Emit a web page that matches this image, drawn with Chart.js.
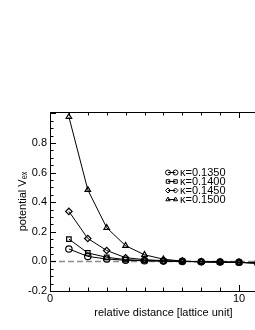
<!DOCTYPE html>
<html>
<head>
<meta charset="utf-8">
<script src="https://cdn.jsdelivr.net/npm/chart.js@4/dist/chart.umd.min.js"></script>
<style>
  html, body { margin: 0; padding: 0; background: #fff; overflow: hidden; }
  /* the plot frame runs past the right edge of the window, like the cropped original */
  #wrap { width: 282px; height: 330px; }
</style>
</head>
<body>
<div id="wrap"><canvas id="vexChart"></canvas></div>
<script>
// distances (lattice units)
const distance = [1, 2, 3, 4, 5, 6, 7, 8, 9, 10, 11];

// potential V_ex for each kappa
const k1350 = [0.084, 0.034, 0.016, 0.008, 0.004, 0.002, 0.000, -0.002, -0.004, -0.006, -0.010];
const k1400 = [0.151, 0.057, 0.028, 0.012, 0.006, 0.003, 0.000, -0.003, -0.005, -0.008, -0.012];
const k1450 = [0.338, 0.155, 0.074, 0.025, 0.012, 0.005, 0.001, -0.002, -0.004, -0.006, -0.010];
const k1500 = [0.977, 0.484, 0.228, 0.106, 0.045, 0.015, 0.002, -0.002, -0.004, -0.006, -0.012];

const seriesLabels = ["κ=0.1350", "κ=0.1400", "κ=0.1450", "κ=0.1500"];
const markers = ["circle", "rect", "rectRot", "triangle"];

const xTicks = [0, 10];
const yTicks = [-0.2, 0, 0.2, 0.4, 0.6, 0.8];

const FONT = "'Liberation Sans', Arial, sans-serif";

function toPoints(vals) {
  return vals.map((v, i) => ({ x: distance[i], y: v }));
}

const allSeries = [k1350, k1400, k1450, k1500];

const datasets = allSeries.map((vals, i) => ({
  label: seriesLabels[i],
  data: toPoints(vals),
  borderColor: "#000",
  borderWidth: 1,
  pointStyle: markers[i],
  pointRadius: 3.2,
  pointBorderColor: "#000",
  pointBorderWidth: 1.2,
  pointBackgroundColor: "rgba(255,255,255,0)",
  tension: 0,
}));

// dashed zero line
datasets.push({
  label: "zero",
  data: [{ x: 0, y: 0 }, { x: 12, y: 0 }],
  borderColor: "#8c8c8c",
  borderWidth: 1.5,
  borderDash: [6, 3],
  pointRadius: 0,
});

// inward tick marks on all sides + top frame line
const framePlugin = {
  id: "frame",
  afterDraw(chart) {
    const { ctx, chartArea: a, scales } = chart;
    const xs = scales.x, ys = scales.y;
    ctx.save();
    ctx.strokeStyle = "#000";
    ctx.lineWidth = 1;
    ctx.beginPath();
    ctx.moveTo(a.left, a.top + 0.5);
    ctx.lineTo(a.right, a.top + 0.5);
    ctx.moveTo(a.right - 0.5, a.top);
    ctx.lineTo(a.right - 0.5, a.bottom);
    for (let v = 0; v <= 12; v++) {
      const px = Math.round(xs.getPixelForValue(v)) + 0.5;
      const len = v % 10 === 0 ? 6 : 3.5;
      ctx.moveTo(px, a.bottom);
      ctx.lineTo(px, a.bottom - len);
      ctx.moveTo(px, a.top);
      ctx.lineTo(px, a.top + len);
    }
    for (let k = -4; k <= 20; k++) {
      const v = k * 0.05;
      const py = Math.round(ys.getPixelForValue(v)) + 0.5;
      const len = k % 4 === 0 ? 6 : 3.5;
      ctx.moveTo(a.left, py);
      ctx.lineTo(a.left + len, py);
      ctx.moveTo(a.right, py);
      ctx.lineTo(a.right - len, py);
    }
    ctx.stroke();
    ctx.restore();
  },
};

// legend drawn inside the plot: marker - line - marker, then label
const legendPlugin = {
  id: "insideLegend",
  afterDraw(chart) {
    const { ctx, chartArea: a } = chart;
    const x0 = a.left + 118;
    const y0 = a.top + 60.5;
    ctx.save();
    ctx.font = "11px " + FONT;
    ctx.fillStyle = "#000";
    ctx.textBaseline = "middle";
    seriesLabels.forEach((lab, i) => {
      const y = y0 + i * 9;
      ctx.strokeStyle = "#000";
      ctx.lineWidth = 1;
      ctx.beginPath();
      ctx.moveTo(x0, y);
      ctx.lineTo(x0 + 7.5, y);
      ctx.stroke();
      const opts = { pointStyle: markers[i], radius: 2.5, borderWidth: 1, rotation: 0 };
      ctx.fillStyle = "rgba(255,255,255,0)";
      Chart.helpers.drawPoint(ctx, opts, x0, y);
      Chart.helpers.drawPoint(ctx, opts, x0 + 7.5, y);
      ctx.fillStyle = "#000";
      ctx.fillText(lab, x0 + 12, y + 0.5);
    });
    ctx.restore();
  },
};

const ctx = document.getElementById("vexChart").getContext("2d");
const vexChart = new Chart(ctx, {
  type: "line",
  data: { datasets: datasets },
  plugins: [framePlugin, legendPlugin],
  options: {
    responsive: true,
    maintainAspectRatio: false,
    animation: false,
    events: [],
    layout: { padding: { top: 112, right: 1, left: 0, bottom: 0 } },
    plugins: {
      legend: { display: false },
      tooltip: { enabled: false },
    },
    scales: {
      x: {
        type: "linear",
        min: 0,
        max: 12,
        afterBuildTicks: (s) => { s.ticks = xTicks.map((v) => ({ value: v })); },
        afterFit: (s) => { s.height = 39; },
        grid: { display: false, drawTicks: false, tickLength: 0 },
        border: { display: true, color: "#000", width: 1 },
        ticks: {
          color: "#000",
          font: { family: FONT, size: 11 },
          padding: 1,
          maxRotation: 0,
          callback: (v) => String(v),
        },
        title: {
          display: true,
          text: "relative distance [lattice unit]",
          color: "#000",
          font: { family: FONT, size: 11 },
          padding: { top: 0, bottom: 10 },
        },
      },
      y: {
        min: -0.2,
        max: 1.01,
        afterBuildTicks: (s) => { s.ticks = yTicks.map((v) => ({ value: v })); },
        afterFit: (s) => { s.width = 50; },
        grid: { display: false, drawTicks: false, tickLength: 0 },
        border: { display: true, color: "#000", width: 1 },
        ticks: {
          color: "#000",
          font: { family: FONT, size: 11 },
          padding: 3,
          callback: (v) => v.toFixed(1),
        },
        title: {
          display: true,
          text: "potential Vₑₓ",
          color: "#000",
          font: { family: FONT, size: 11 },
          padding: { top: 16, bottom: 0 },
        },
      },
    },
  },
});
</script>
</body>
</html>
